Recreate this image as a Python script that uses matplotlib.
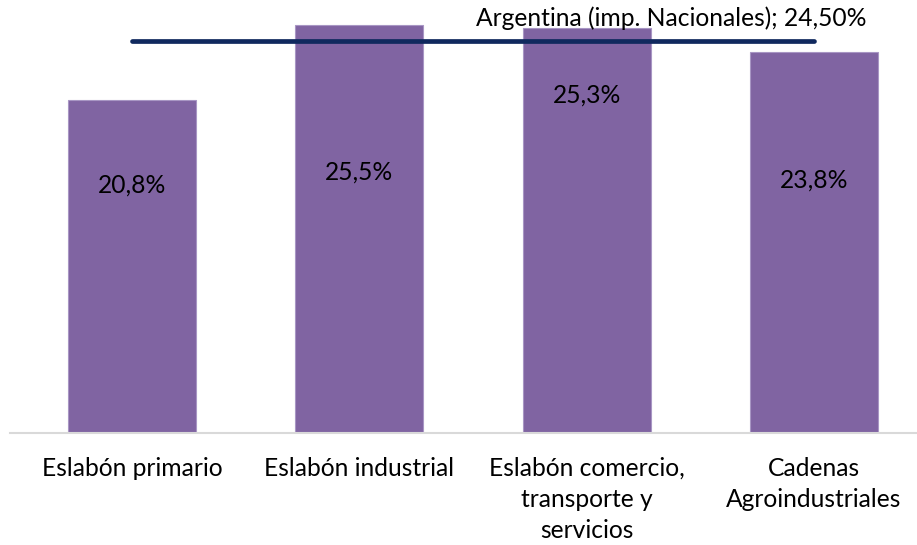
import matplotlib.pyplot as plt

plt.rcParams['font.family'] = ['Lato', 'DejaVu Sans']

categorias = ["Eslabón primario", "Eslabón industrial",
              "Eslabón comercio,\ntransporte y\nservicios",
              "Cadenas\nAgroindustriales"]
valores = [20.8, 25.5, 25.3, 23.8]
etiquetas = ["20,8%", "25,5%", "25,3%", "23,8%"]
# altura (en unidades del eje) a la que va cada etiqueta dentro de la barra
pos_etiquetas = [15.5, 16.3, 21.1, 15.8]
argentina = 24.5
texto_argentina = "Argentina (imp. Nacionales); 24,50%"

fig = plt.figure(figsize=(9.17, 5.45), dpi=100)
ax = fig.add_axes([10 / 917, 112 / 545, 907 / 917, 433 / 545])

x = list(range(len(categorias)))
ax.bar(x, valores, width=0.563, color='#8064A2', edgecolor='#A896C4', linewidth=0.8, zorder=2)

for xi, yi, t in zip(x, pos_etiquetas, etiquetas):
    ax.text(xi, yi, t, ha='center', va='center', fontsize=17.7, color='black', zorder=4)

ax.plot([x[0], x[-1]], [argentina, argentina], color='#10295E', linewidth=3.4,
        solid_capstyle='round', zorder=3)
ax.text(2.37, 25.9, texto_argentina, ha='center', va='center', fontsize=17.7, color='black', zorder=4)

ax.set_xlim(-0.537, 3.453)
ax.set_ylim(0, 27.06)
ax.set_xticks(x)
ax.set_xticklabels(categorias, fontsize=17.7, linespacing=1.42, va='top')
ax.tick_params(axis='x', length=0, pad=17)
ax.set_yticks([])
for s in ['top', 'right', 'left']:
    ax.spines[s].set_visible(False)
ax.spines['bottom'].set_color('#D9D9D9')
ax.spines['bottom'].set_linewidth(1.5)

fig.savefig('out.png', dpi=100)
